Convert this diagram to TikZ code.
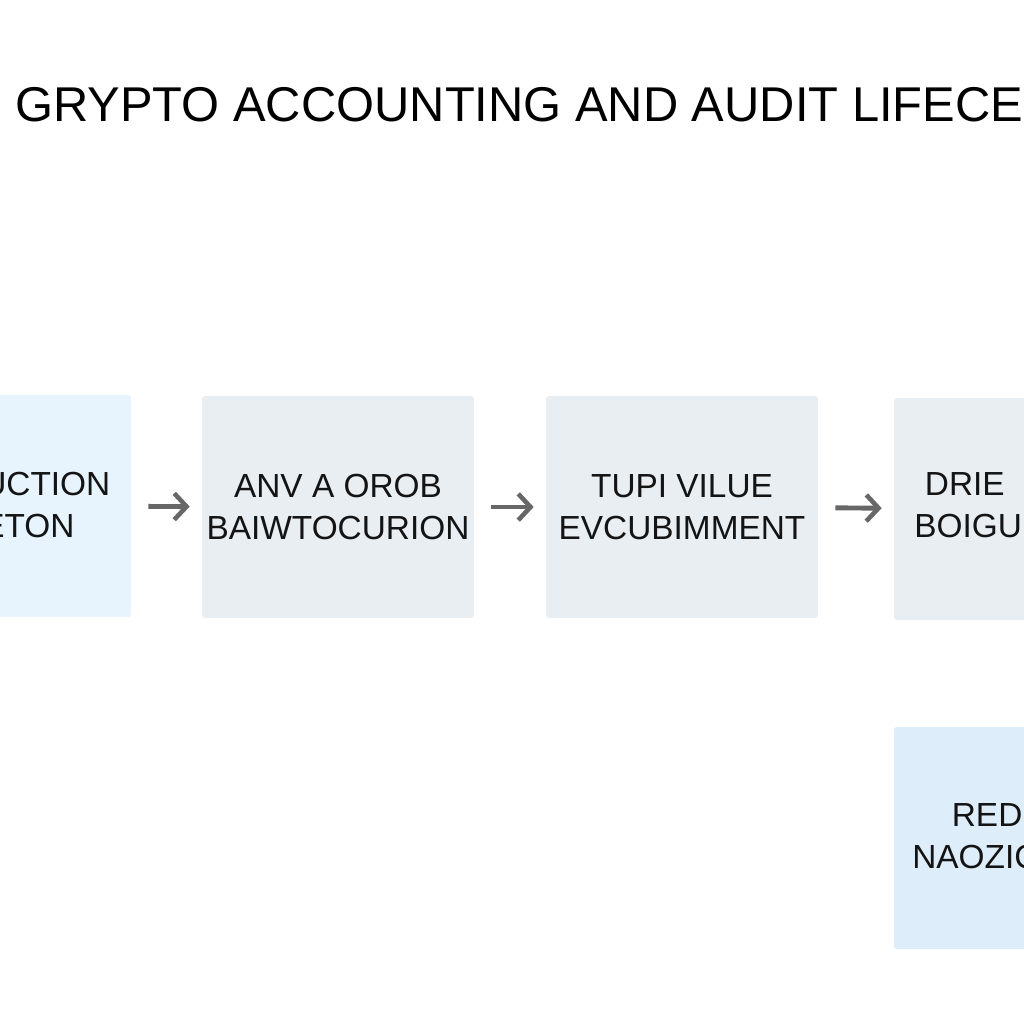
\documentclass[tikz,border=0pt]{standalone}
\usepackage{fontspec}
\setmainfont{Liberation Sans}
\usetikzlibrary{arrows.meta}
\definecolor{paleblue}{HTML}{E7F4FD}
\definecolor{palegray}{HTML}{E9EEF3}
\definecolor{skyblue}{HTML}{DDEDFA}
\definecolor{ink}{HTML}{141414}
\definecolor{arrowgray}{HTML}{676767}

\begin{document}
\begin{tikzpicture}[x=0.02cm, y=-0.02cm,
  box/.style={rectangle, fill=palegray, minimum width=5.44cm, minimum height=4.44cm, rounded corners=1.5pt, inner sep=0pt},
  lbl/.style={text=ink, font=\fontsize{19}{24}\selectfont, inner sep=0pt},
  arrow/.style={-{Straight Barb[length=7pt,width=15pt,line width=2.6pt]}, line width=2.8pt, arrowgray, shorten <=0.34cm, shorten >=0.24cm},
]
  \useasboundingbox (0,0) rectangle (1024,1024);
  \clip (0,0) rectangle (1024,1024);
  \fill[white] (0,0) rectangle (1024,1024);
  \node[anchor=base west, inner sep=0pt, text=black, font=\fontsize{27.8}{32}\selectfont] (title) at (15,122) {GRYPTO ACCOUNTING AND AUDIT LIFECE};
  \node[box, fill=paleblue] (b1) at (-5,506) {};
  \node[box, lbl, align=center] (b2) at (338,507) {ANV A OROB\\BAIWTOCURION};
  \node[box, lbl, align=center] (b3) at (682,507) {TUPI VILUE\\EVCUBIMMENT};
  \node[box] (b4) at (1030,509) {};
  \node[box, fill=skyblue] (b5) at (1030,838) {};
  \node[lbl, anchor=west, align=left] (t1) at (-18,505) {UCTION\\ETON};
  \node[lbl, anchor=west, align=left] (t4) at (914,505) {\hspace*{6pt}DRIE\\BOIGU};
  \node[lbl, anchor=west, align=left] (t5) at (912,836) {\hspace*{22.5pt}RED\\NAOZIC};
  \draw[arrow] (b1) -- (b2);
  \draw[arrow] (b2) -- (b3);
  \draw[arrow] (b3) -- (b4);
\end{tikzpicture}
\end{document}
